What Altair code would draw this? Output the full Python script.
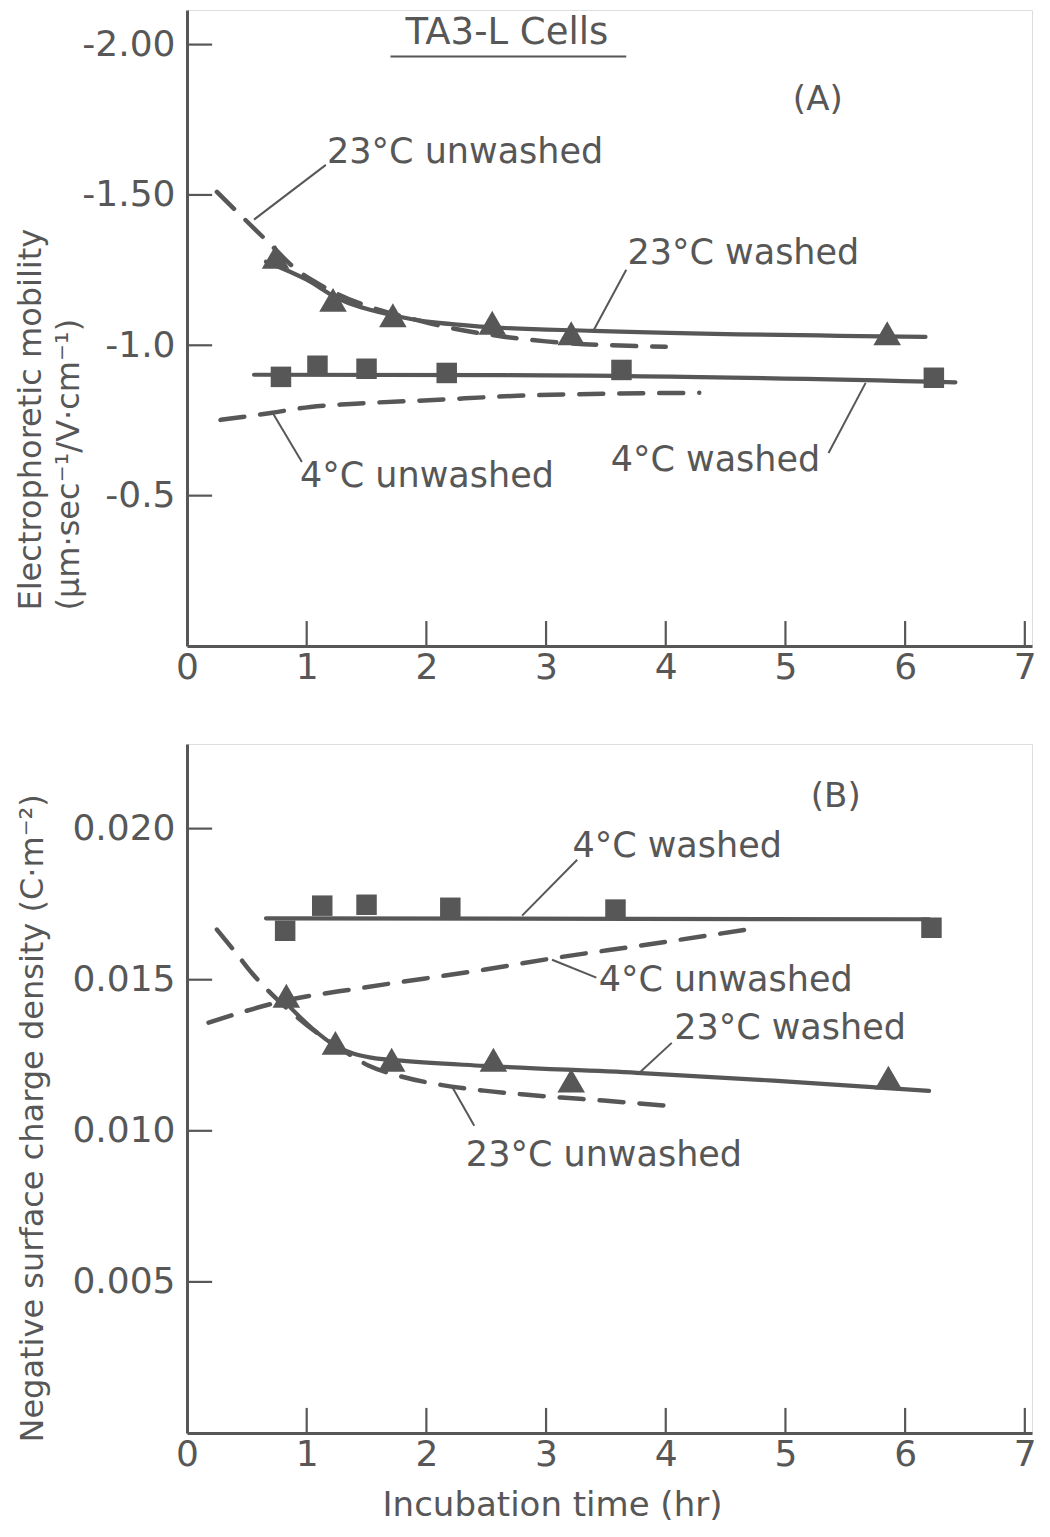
import altair as alt
import pandas as pd

# ---------------- values ----------------
x_tick_vals = [0, 1, 2, 3, 4, 5, 6, 7]
x_tick_labels = ["0", "1", "2", "3", "4", "5", "6", "7"]

a_ytick_vals = [-0.5, -1.0, -1.5, -2.0]
a_ytick_labels = ["-0.5", "-1.0", "-1.50", "-2.00"]
b_ytick_vals = [0.005, 0.010, 0.015, 0.020]
b_ytick_labels = ["0.005", "0.010", "0.015", "0.020"]

# Panel A : electrophoretic mobility
a_sq_t = [0.785, 1.09, 1.50, 2.17, 3.63, 6.24]          # 4°C washed (squares)
a_sq_v = [-0.895, -0.932, -0.922, -0.908, -0.918, -0.892]
a_tri_t = [0.74, 1.22, 1.72, 2.55, 3.21, 5.85]          # 23°C washed (triangles)
a_tri_v = [-1.294, -1.151, -1.10, -1.075, -1.04, -1.04]

a_w23_t = [0.66, 1.0, 1.25, 1.72, 2.46, 3.4, 6.17]
a_w23_v = [-1.278, -1.218, -1.158, -1.10, -1.062, -1.048, -1.028]
a_u23_t = [0.25, 0.66, 0.92, 1.14, 1.98, 2.62, 3.0, 4.0]
a_u23_v = [-1.51, -1.35, -1.25, -1.195, -1.078, -1.03, -1.013, -0.995]
a_w4_t = [0.56, 3.0, 6.42]
a_w4_v = [-0.902, -0.900, -0.877]
a_u4_t = [0.28, 0.70, 1.03, 1.37, 2.06, 2.76, 3.54, 4.28]
a_u4_v = [-0.752, -0.775, -0.795, -0.805, -0.818, -0.832, -0.839, -0.842]

# Panel B : negative surface charge density
b_sq_t = [0.82, 1.13, 1.50, 2.20, 3.58, 6.22]
b_sq_v = [0.01662, 0.01745, 0.01748, 0.01738, 0.01732, 0.01672]
b_tri_t = [0.83, 1.24, 1.71, 2.56, 3.21, 5.86]
b_tri_v = [0.01447, 0.01291, 0.01235, 0.01235, 0.01166, 0.01176]

b_w23_t = [0.81, 1.04, 1.24, 1.54, 1.79, 2.48, 3.76, 4.9, 6.2]
b_w23_v = [0.0143, 0.01341, 0.01281, 0.01242, 0.01232, 0.01215, 0.01192, 0.01166, 0.01132]
b_u23_t = [0.25, 0.42, 0.54, 0.74, 1.0, 1.31, 1.52, 1.77, 2.12, 2.48, 2.82, 3.13, 3.48, 4.01]
b_u23_v = [0.01666, 0.01583, 0.01523, 0.0144, 0.0135, 0.01265, 0.01215, 0.01182,
           0.01152, 0.01133, 0.0112, 0.0111, 0.0110, 0.01083]
b_w4_t = [0.66, 6.2]
b_w4_v = [0.01703, 0.01700]
b_u4_t = [0.18, 0.81, 1.48, 2.48, 3.09, 3.79, 4.68]
b_u4_v = [0.01358, 0.0143, 0.01474, 0.01533, 0.01573, 0.01613, 0.01666]

# ---------------- styling ----------------
FONT = "DejaVu Sans"
INK = "#575757"
LBL = 35

xs = alt.Scale(domain=[0, 7.06], nice=False, zero=False)
ysA = alt.Scale(domain=[-2.115, 0], reverse=True, nice=False, zero=False)
ysB = alt.Scale(domain=[0, 0.0228], nice=False, zero=False)


def label_expr(vals, labels):
    expr = "''"
    for v, l in reversed(list(zip(vals, labels))):
        expr = f"abs(datum.value - ({v})) < 1e-9 ? '{l}' : {expr}"
    return expr


def x_axis(title="", title_x=0, title_y=0):
    kw = dict(values=x_tick_vals, labelExpr=label_expr(x_tick_vals, x_tick_labels),
              ticks=False, grid=False, domainColor=INK, domainWidth=3,
              labelFont=FONT, labelFontSize=36, labelColor=INK, labelPadding=4,
              labelFlush=False, labelOverlap=False, title=title)
    if title:
        kw.update(titleFont=FONT, titleFontSize=34, titleFontWeight="normal",
                  titleColor=INK, titleX=title_x, titleY=title_y,
                  titleAlign="center", titleBaseline="middle")
    return alt.Axis(**kw)


def y_axis(vals, labels, title, title_x, title_y):
    return alt.Axis(values=vals, labelExpr=label_expr(vals, labels),
                    ticks=False, grid=False, domainColor=INK, domainWidth=3,
                    labelFont=FONT, labelFontSize=36, labelColor=INK, labelPadding=12,
                    labelFlush=False, labelOverlap=False,
                    title=title, titleFont=FONT, titleFontSize=32,
                    titleFontWeight="normal", titleColor=INK, titleAngle=270,
                    titleAlign="left", titleBaseline="top",
                    titleX=title_x, titleY=title_y, titleLineHeight=38)


def curves_df(specs):
    rows = []
    for name, ts, vs in specs:
        for t, v in zip(ts, vs):
            rows.append({"t": t, "v": v, "series": name})
    return pd.DataFrame(rows)


def panel(ys, xax, yax, height, sq, tri, solid, dashed, texts, leaders,
          tick_len_x, tick_len_y, big=None):
    X = alt.X("t:Q", scale=xs, axis=xax)
    Y = alt.Y("v:Q", scale=ys, axis=yax)

    solid_df = curves_df(solid)
    dashed_df = curves_df(dashed)

    l_solid = alt.Chart(solid_df).mark_line(
        color=INK, strokeWidth=4.2, interpolate="monotone", strokeCap="round"
    ).encode(x=X, y=Y, detail="series:N")
    l_dash = alt.Chart(dashed_df).mark_line(
        color=INK, strokeWidth=4.5, interpolate="monotone", strokeCap="round",
        strokeDash=[24, 16]
    ).encode(x=X, y=Y, detail="series:N")

    sq_df = pd.DataFrame({"t": sq[0], "v": sq[1]})
    tri_df = pd.DataFrame({"t": tri[0], "v": tri[1]})
    p_sq = alt.Chart(sq_df).mark_point(
        shape="square", size=420, filled=True, color=INK, opacity=1
    ).encode(x=X, y=Y)
    p_tri = alt.Chart(tri_df).mark_point(
        shape="triangle-up", size=760, filled=True, color=INK, opacity=1
    ).encode(x=X, y=Y)

    # inward axis ticks
    tick_rows = []
    for v in yax.values:
        tick_rows.append({"t": 0.0, "t2": tick_len_x, "v": v, "v2": v})
    for t in x_tick_vals[1:]:
        tick_rows.append({"t": t, "t2": t, "v": 0.0, "v2": tick_len_y})
    ticks = alt.Chart(pd.DataFrame(tick_rows)).mark_rule(
        color=INK, strokeWidth=2.2
    ).encode(x=X, x2="t2:Q", y=Y, y2="v2:Q")

    lead_df = pd.DataFrame(leaders, columns=["t", "v", "t2", "v2"])
    leads = alt.Chart(lead_df).mark_rule(
        color=INK, strokeWidth=2
    ).encode(x=X, x2="t2:Q", y=Y, y2="v2:Q")

    txt_df = pd.DataFrame(texts, columns=["t", "v", "label"])
    txt = alt.Chart(txt_df).mark_text(
        font=FONT, fontSize=LBL, color=INK, align="left", baseline="middle"
    ).encode(x=X, y=Y, text="label:N")

    layers = [ticks, l_dash, l_solid, p_sq, p_tri, leads, txt]
    if big is not None:
        big_df = pd.DataFrame(big, columns=["t", "v", "label", "size"])
        layers.append(alt.Chart(big_df).mark_text(
            font=FONT, color=INK, align="center", baseline="middle"
        ).encode(x=X, y=Y, text="label:N",
                 size=alt.Size("size:Q", scale=None, legend=None)))
    return alt.layer(*layers).properties(width=845, height=height)


# ---------------- panel A ----------------
axA_y = y_axis(a_ytick_vals, a_ytick_labels,
               ["Electrophoretic  mobility", "(\u03bcm\u00b7sec\u207b\u00b9/V\u00b7cm\u207b\u00b9)"],
               -172, 600)
axA_x = x_axis()
textsA = [
    (1.17, -1.644, "23°C unwashed"),
    (3.68, -1.308, "23°C washed"),
    (3.54, -0.619, "4°C washed"),
    (0.944, -0.566, "4°C unwashed"),
]
leadersA = [
    (1.16, -1.60, 0.56, -1.418),
    (3.67, -1.251, 3.40, -1.052),
    (5.36, -0.642, 5.67, -0.875),
    (0.96, -0.612, 0.71, -0.779),
    (1.70, -1.96, 3.67, -1.96),   # underline of the heading
]
bigA = [
    (2.673, -2.04, "TA3-L Cells", 37),
    (5.27, -1.817, "(A)", 34),
]
panelA = panel(ysA, axA_x, axA_y, 636,
               (a_sq_t, a_sq_v), (a_tri_t, a_tri_v),
               [("w23", a_w23_t, a_w23_v), ("w4", a_w4_t, a_w4_v)],
               [("u23", a_u23_t, a_u23_v), ("u4", a_u4_t, a_u4_v)],
               textsA, leadersA, 0.21, -0.083, bigA)

# ---------------- panel B ----------------
axB_y = y_axis(b_ytick_vals, b_ytick_labels,
               "Negative surface charge density (C\u00b7m\u207b\u00b2)", -170, 698)
axB_x = x_axis("Incubation time (hr)", 365, 72)
textsB = [
    (3.22, 0.01944, "4°C  washed"),
    (3.44, 0.0150, "4°C unwashed"),
    (4.07, 0.01341, "23°C washed"),
    (2.33, 0.0092, "23°C unwashed"),
]
leadersB = [
    (3.26, 0.01897, 2.80, 0.01712),
    (3.42, 0.01507, 3.05, 0.01566),
    (4.05, 0.01291, 3.78, 0.01192),
    (2.21, 0.01149, 2.40, 0.01017),
]
bigB = [
    (5.42, 0.02103, "(B)", 34),
]
panelB = panel(ysB, axB_x, axB_y, 689,
               (b_sq_t, b_sq_v), (b_tri_t, b_tri_v),
               [("w23", b_w23_t, b_w23_v), ("w4", b_w4_t, b_w4_v)],
               [("u23", b_u23_t, b_u23_v), ("u4", b_u4_t, b_u4_v)],
               textsB, leadersB, 0.21, 0.00083, bigB)

chart = alt.vconcat(panelA, panelB, spacing=98, bounds="flush").properties(
    padding={"left": 5, "top": 1, "right": 5, "bottom": 5}
).configure_view(strokeWidth=0).configure(background="white")

chart.save("out.html", embed_options={"renderer": "svg", "actions": False})
